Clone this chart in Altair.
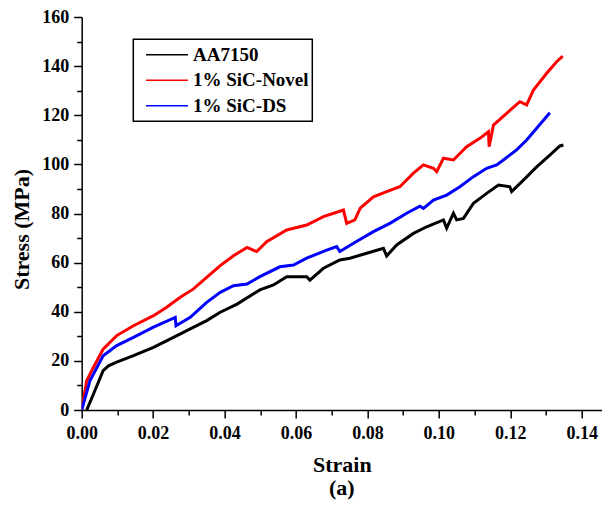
import altair as alt
import pandas as pd

# ---- data ----
aa_strain = [0.0014, 0.0033, 0.0060, 0.0075, 0.0098, 0.0145, 0.0201, 0.0257, 0.0304, 0.0350,
             0.0388, 0.0435, 0.0499, 0.0537, 0.0574, 0.0630, 0.0639, 0.0677, 0.0723, 0.0751,
             0.0798, 0.0845, 0.0854, 0.0882, 0.0929, 0.0966, 0.1013, 0.1022, 0.1041, 0.1050,
             0.1069, 0.1097, 0.1134, 0.1167, 0.1199, 0.1204, 0.1237, 0.1274, 0.1311, 0.1339,
             0.1349]
aa_stress = [0.0, 6.5, 16.0, 18.0, 19.5, 22.1, 25.5, 29.6, 33.0, 36.4,
             39.8, 43.1, 48.9, 50.9, 54.3, 54.3, 52.9, 57.7, 61.1, 61.8,
             63.8, 65.8, 62.7, 67.2, 71.9, 74.6, 77.4, 74.0, 80.1, 77.4,
             78.0, 84.2, 88.2, 91.6, 90.9, 88.9, 93.6, 99.0, 103.8, 107.5,
             107.9]

nov_strain = [0.0000, 0.0014, 0.0033, 0.0060, 0.0098, 0.0145, 0.0201, 0.0238, 0.0276, 0.0313,
              0.0350, 0.0388, 0.0425, 0.0463, 0.0490, 0.0518, 0.0574, 0.0630, 0.0677, 0.0733,
              0.0742, 0.0765, 0.0780, 0.0817, 0.0854, 0.0891, 0.0929, 0.0957, 0.0985, 0.0994,
              0.1013, 0.1041, 0.1078, 0.1115, 0.1139, 0.1141, 0.1153, 0.1190, 0.1227, 0.1246,
              0.1265, 0.1302, 0.1330, 0.1347]
nov_stress = [0.0, 11.9, 17.4, 24.8, 30.3, 34.3, 38.4, 41.8, 45.9, 49.3,
              54.0, 58.8, 62.8, 66.2, 64.5, 68.5, 73.3, 75.3, 78.7, 81.4,
              76.0, 77.4, 82.2, 86.8, 88.9, 90.9, 96.4, 99.8, 98.4, 97.0,
              102.5, 101.8, 107.2, 110.6, 113.3, 107.2, 116.0, 120.8, 125.5, 124.2,
              130.3, 137.1, 141.8, 144.1]

ds_strain = [0.0000, 0.0023, 0.0060, 0.0098, 0.0145, 0.0201, 0.0262, 0.0264, 0.0304, 0.0350,
             0.0388, 0.0425, 0.0463, 0.0499, 0.0555, 0.0593, 0.0630, 0.0686, 0.0714, 0.0723,
             0.0761, 0.0817, 0.0863, 0.0910, 0.0947, 0.0957, 0.0985, 0.1022, 0.1059, 0.1097,
             0.1134, 0.1162, 0.1181, 0.1218, 0.1246, 0.1274, 0.1311]
ds_stress = [0.0, 11.9, 22.1, 26.2, 29.6, 33.7, 37.7, 34.3, 37.7, 43.8,
             47.9, 50.6, 51.3, 54.3, 58.3, 59.0, 61.8, 65.1, 66.5, 64.5,
             67.9, 72.6, 76.0, 80.1, 83.0, 82.1, 85.5, 87.5, 90.9, 95.0,
             98.4, 99.8, 101.8, 105.9, 109.9, 114.7, 121.0]

series_names = ["AA7150", "1% SiC-Novel", "1% SiC-DS"]
series_colors = ["#000000", "#ff0000", "#0000ff"]

x_ticks = [round(i * 0.01, 2) for i in range(15)]
y_ticks = list(range(0, 161, 10))

rows = []
for name, xs, ys in zip(series_names, [aa_strain, nov_strain, ds_strain],
                        [aa_stress, nov_stress, ds_stress]):
    for i, (a, b) in enumerate(zip(xs, ys)):
        rows.append({"series": name, "strain": a, "stress": b, "idx": i})
df = pd.DataFrame(rows)

FONT = "Liberation Serif"

chart = alt.Chart(df).mark_line(strokeWidth=3, clip=True).encode(
    x=alt.X("strain:Q",
            scale=alt.Scale(domain=[0, 0.1457], nice=False, zero=False),
            axis=alt.Axis(values=x_ticks, format=".2f", title="Strain",
                          labelExpr="round(datum.value*100) % 2 == 0 ? datum.label : ''",
                          tickSize={"condition": {"test": "round(datum.value*100) % 2 == 0", "value": 8}, "value": 5},
                          labelFlush=False, labelPadding=6, titlePadding=12, grid=False)),
    y=alt.Y("stress:Q",
            scale=alt.Scale(domain=[0, 160], nice=False),
            axis=alt.Axis(values=y_ticks, format="d", title="Stress (MPa)",
                          labelExpr="datum.value % 20 == 0 ? datum.label : ''",
                          tickSize={"condition": {"test": "datum.value % 20 == 0", "value": 8}, "value": 5},
                          labelFlush=False, labelPadding=5, titleX=-60, titleY=212, titleAngle=270,
                          titleAlign="center", titleBaseline="middle", grid=False)),
    color=alt.Color("series:N",
                    scale=alt.Scale(domain=series_names, range=series_colors),
                    legend=alt.Legend(title=None, orient="none", legendX=51.6, legendY=22.3,
                                      symbolType="stroke", symbolSize=1764, symbolStrokeWidth=1.5,
                                      symbolOffset=8.7, labelOffset=4, rowPadding=0.5, padding=3,
                                      clipHeight=25,
                                      strokeColor="black", fillColor="white")),
    order="idx:Q",
).properties(
    width=520.3,
    height=393,
    title=alt.TitleParams(text="(a)", orient="bottom", anchor="middle", font=FONT,
                          fontSize=22, fontWeight="bold", color="black", offset=3),
    autosize=alt.AutoSizeParams(type="none"),
    padding={"left": 73.7, "top": 9, "right": 0, "bottom": 91},
).configure_view(
    stroke=None
).configure_axis(
    labelFont=FONT, labelFontSize=18, labelFontWeight="bold", labelColor="black",
    titleFont=FONT, titleFontSize=22, titleFontWeight="bold", titleColor="black",
    domainColor="black", domainWidth=1.5, tickColor="black", tickWidth=1.5,
).configure_legend(
    labelFont=FONT, labelFontSize=19, labelFontWeight="bold", labelColor="black",
    strokeWidth=1.5,
)

chart.save("out.html", embed_options={"renderer": "svg", "actions": False})
